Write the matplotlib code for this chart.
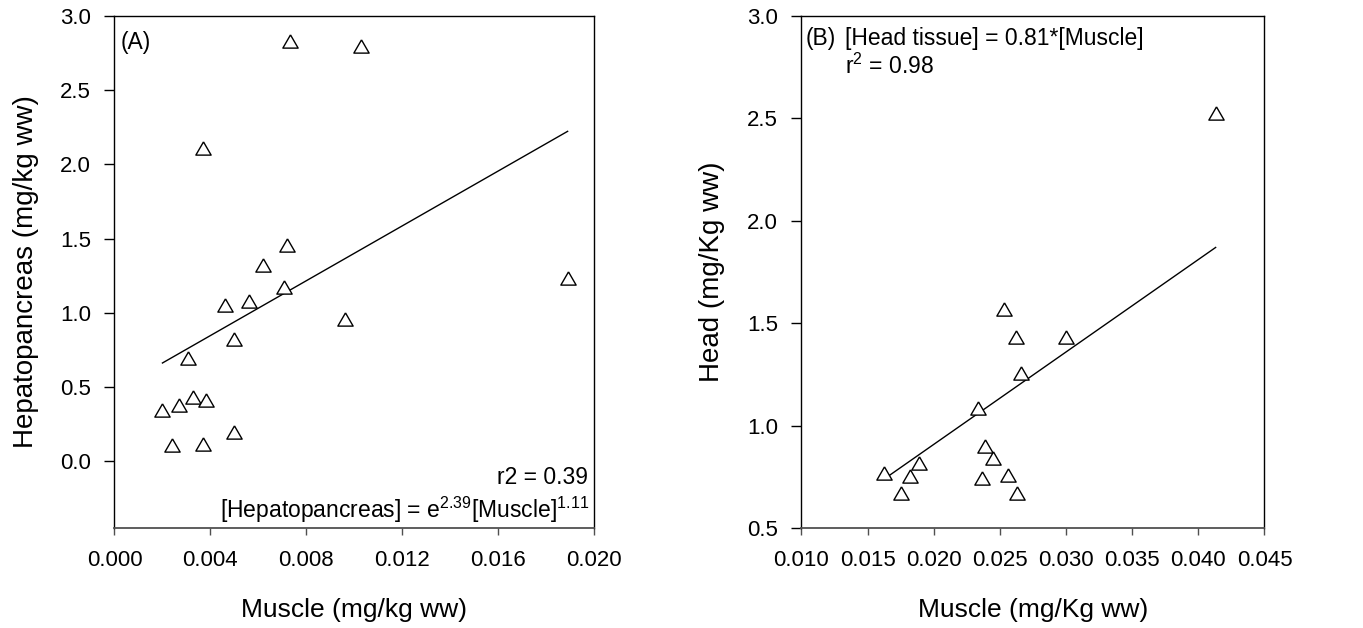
import numpy as np
import matplotlib
matplotlib.use('Agg')
import matplotlib.pyplot as plt

plt.rcParams['font.family'] = ['Liberation Sans', 'DejaVu Sans']
plt.rcParams['mathtext.fontset'] = 'custom'
plt.rcParams['mathtext.rm'] = 'Liberation Sans'
plt.rcParams['mathtext.default'] = 'regular'

# Panel A: muscle vs hepatopancreas (mg/kg ww)
muscle_A = [7.30e-3, 10.30e-3, 3.69e-3, 7.20e-3, 6.19e-3, 7.09e-3, 4.61e-3,
            5.61e-3, 18.90e-3, 9.61e-3, 4.98e-3, 3.08e-3, 1.98e-3, 2.70e-3,
            3.29e-3, 3.80e-3, 4.98e-3, 2.39e-3, 3.69e-3]
hepato_A = [2.83, 2.795, 2.108, 1.46, 1.319, 1.173, 1.054,
            1.077, 1.234, 0.960, 0.826, 0.698, 0.343, 0.381,
            0.433, 0.410, 0.197, 0.108, 0.119]
fit_x_A = [2.0e-3, 18.9e-3]
fit_y_A = [0.662, 2.223]
xticks_A = ['0.000', '0.004', '0.008', '0.012', '0.016', '0.020']
yticks_A = ['0.0', '0.5', '1.0', '1.5', '2.0', '2.5', '3.0']

# Panel B: muscle vs head tissue (mg/Kg ww)
muscle_B = [0.04131, 0.02533, 0.02623, 0.03003, 0.02658, 0.02332, 0.02387,
            0.02447, 0.01887, 0.01621, 0.01819, 0.02364, 0.02560, 0.01749,
            0.02631]
head_B = [2.525, 1.567, 1.433, 1.433, 1.255, 1.087, 0.901,
          0.842, 0.818, 0.771, 0.754, 0.746, 0.761, 0.673,
          0.673]
fit_x_B = [0.01667, 0.04131]
fit_y_B = [0.758, 1.870]
xticks_B = ['0.010', '0.015', '0.020', '0.025', '0.030', '0.035', '0.040', '0.045']
yticks_B = ['0.5', '1.0', '1.5', '2.0', '2.5', '3.0']

# open equilateral triangle, centred on its bounding box
tri = [(0, 0.866), (-1, -0.866), (1, -0.866), (0, 0.866)]

fig = plt.figure(figsize=(13.63, 6.28), dpi=100)
axA = fig.add_axes([0.0840, 0.1592, 0.3518, 0.8153])
axB = fig.add_axes([0.5880, 0.1592, 0.3397, 0.8153])

axA.plot(fit_x_A, fit_y_A, color='black', lw=1.0)
axA.plot(muscle_A, hepato_A, linestyle='none', marker=tri, markersize=11,
         markerfacecolor='white', markeredgecolor='black', markeredgewidth=1.0)
axA.set_xlim(0, 0.020)
axA.set_ylim(-0.45, 3.0)
axA.set_xticks(np.arange(0, 0.0201, 0.004))
axA.set_xticklabels(xticks_A)
axA.set_yticks(np.arange(0, 3.01, 0.5))
axA.set_yticklabels(yticks_A)
axA.set_xlabel('Muscle (mg/kg ww)', fontsize=19, labelpad=19)
axA.set_ylabel('Hepatopancreas (mg/kg ww)', fontsize=20, labelpad=15)
axA.text(0.0125, 0.936, '(A)', transform=axA.transAxes, fontsize=16.5,
         ha='left', va='baseline')
axA.text(0.9875, 0.086, 'r2 = 0.39', transform=axA.transAxes, fontsize=16.5,
         ha='right', va='baseline')
axA.text(0.99, 0.0195, r'[Hepatopancreas] = e$^{2.39}$[Muscle]$^{1.11}$',
         transform=axA.transAxes, fontsize=16.5, ha='right', va='baseline')

axB.plot(fit_x_B, fit_y_B, color='black', lw=1.0)
axB.plot(muscle_B, head_B, linestyle='none', marker=tri, markersize=11,
         markerfacecolor='white', markeredgecolor='black', markeredgewidth=1.0)
axB.set_xlim(0.010, 0.045)
axB.set_ylim(0.5, 3.0)
axB.set_xticks(np.arange(0.010, 0.0451, 0.005))
axB.set_xticklabels(xticks_B)
axB.set_yticks(np.arange(0.5, 3.01, 0.5))
axB.set_yticklabels(yticks_B)
axB.set_xlabel('Muscle (mg/Kg ww)', fontsize=19, labelpad=19)
axB.set_ylabel('Head (mg/Kg ww)', fontsize=20, labelpad=15.5)
axB.text(0.008, 0.943, '(B)', transform=axB.transAxes, fontsize=16.5,
         ha='left', va='baseline')
axB.text(0.094, 0.943, '[Head tissue] = 0.81*[Muscle]', transform=axB.transAxes,
         fontsize=16.5, ha='left', va='baseline')
axB.text(0.094, 0.887, r'r$^2$ = 0.98', transform=axB.transAxes,
         fontsize=16.5, ha='left', va='baseline')

# spines and ticks styled after the ticks are set
for ax in (axA, axB):
    for side in ('top', 'right', 'left'):
        ax.spines[side].set_linewidth(1.0)
        ax.spines[side].set_color('black')
    ax.spines['bottom'].set_linewidth(1.3)
    ax.spines['bottom'].set_color('#505050')
    ax.tick_params(axis='y', direction='out', length=7.5, width=1.0,
                   labelsize=16, pad=9.5)
    ax.tick_params(axis='x', direction='out', length=5, width=1.0,
                   color='#505050', labelsize=16, pad=11)

fig.savefig('out.png', dpi=100, facecolor='white')
